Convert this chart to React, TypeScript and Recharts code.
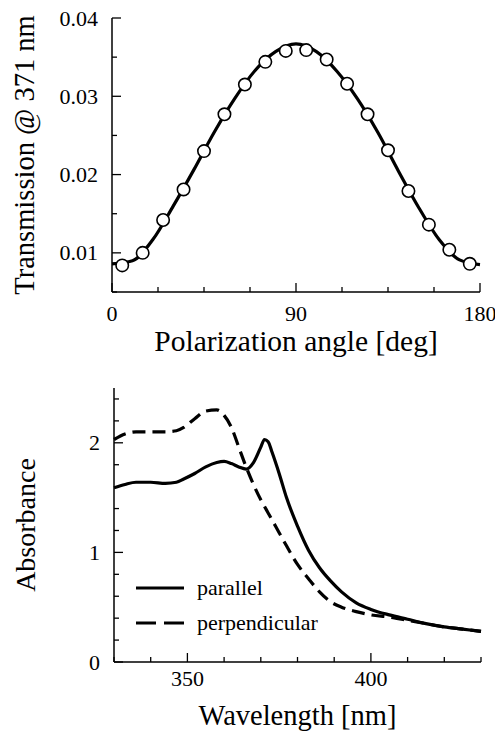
import React from 'react';
import { ComposedChart, LineChart, Line, Scatter, XAxis, YAxis, Legend, Label } from 'recharts';

const FONT = 'Liberation Serif';

// ---- Top panel: transmission vs polarization angle ----
const polAngles = [5, 15, 25, 35, 45, 55, 65, 75, 85, 95, 105, 115, 125, 135, 145, 155, 165, 175];
const polTrans = [0.0084, 0.0100, 0.0142, 0.0181, 0.0230, 0.0277, 0.0315, 0.0344, 0.0358, 0.0359, 0.0347, 0.0316, 0.0277, 0.0231, 0.0179, 0.0136, 0.0104, 0.0086];
const fitAngles = [0, 10, 20, 30, 40, 50, 60, 70, 80, 90, 100, 110, 120, 130, 140, 150, 160, 170, 180];
const fitTrans = [0.0086, 0.0090, 0.0117, 0.0160, 0.0206, 0.0254, 0.0297, 0.0333, 0.0357, 0.0367, 0.0357, 0.0332, 0.0297, 0.0254, 0.0205, 0.0158, 0.0117, 0.0091, 0.0085];
const polTicks = [0, 22.5, 45, 67.5, 90, 112.5, 135, 157.5, 180];
const polMajor = [0, 90, 180];
const transTicks = [0.005, 0.01, 0.015, 0.02, 0.025, 0.03, 0.035, 0.04];
const transMajor = [0.01, 0.02, 0.03, 0.04];

// ---- Bottom panel: absorbance spectra ----
const wavelengths = [330, 333, 336, 340, 344, 347, 349, 352, 355, 358, 360, 362, 364, 366, 368, 370, 371, 372, 373, 375, 377, 380, 383, 386, 389, 392, 396, 400, 405, 410, 415, 420, 425, 430];
const parallel = [1.59, 1.62, 1.64, 1.64, 1.63, 1.64, 1.67, 1.72, 1.78, 1.82, 1.83, 1.81, 1.78, 1.76, 1.82, 1.96, 2.03, 2.01, 1.92, 1.72, 1.50, 1.24, 1.02, 0.86, 0.74, 0.64, 0.54, 0.48, 0.43, 0.39, 0.35, 0.32, 0.30, 0.28];
const perpendicular = [2.03, 2.08, 2.10, 2.10, 2.10, 2.11, 2.14, 2.22, 2.29, 2.30, 2.25, 2.14, 1.96, 1.78, 1.62, 1.48, 1.42, 1.36, 1.30, 1.18, 1.06, 0.89, 0.76, 0.64, 0.55, 0.50, 0.46, 0.43, 0.41, 0.38, 0.35, 0.32, 0.30, 0.28];
const seriesNames = ['parallel', 'perpendicular'];
const wlTicks = [330, 340, 350, 360, 370, 380, 390, 400, 410, 420, 430];
const wlMajor = [350, 400];
const absTicks = [0, 0.2, 0.4, 0.6, 0.8, 1.0, 1.2, 1.4, 1.6, 1.8, 2.0, 2.2, 2.4];
const absMajor = [0, 1, 2];

const fitData = fitAngles.map((deg, i) => ({ deg, t: fitTrans[i] }));
const pointData = polAngles.map((deg, i) => ({ deg, t: polTrans[i] }));
const specData = wavelengths.map((wl, i) => ({ wl, par: parallel[i], perp: perpendicular[i] }));

const isMajor = (v: number, majors: number[]) => majors.some((m) => Math.abs(m - v) < 1e-9);
const TICK_FS = 22;
const MAJ = 9;
const MIN = 5;

const makeTick = (
  orient: 'bottom' | 'left' | 'top' | 'right',
  majors: number[],
  fmt: (v: number) => string,
  labelOff: number
) => (props: any) => {
  const { x, y, payload } = props;
  const v = payload.value;
  const major = isMajor(v, majors);
  const len = major ? MAJ : MIN;
  let line;
  let label = null;
  if (orient === 'bottom') {
    line = <line x1={x} x2={x} y1={y} y2={y - len} stroke="#000" strokeWidth={1.3} />;
    if (major)
      label = (
        <text x={x} y={y + labelOff} textAnchor="middle" fontSize={TICK_FS} fontFamily={FONT} fill="#000">
          {fmt(v)}
        </text>
      );
  } else if (orient === 'top') {
    line = <line x1={x} x2={x} y1={y} y2={y + len} stroke="#000" strokeWidth={1.3} />;
  } else if (orient === 'left') {
    line = <line x1={x} x2={x + len} y1={y} y2={y} stroke="#000" strokeWidth={1.3} />;
    if (major)
      label = (
        <text x={x - labelOff} y={y + 7.5} textAnchor="end" fontSize={TICK_FS} fontFamily={FONT} fill="#000">
          {fmt(v)}
        </text>
      );
  } else {
    line = <line x1={x} x2={x - len} y1={y} y2={y} stroke="#000" strokeWidth={1.3} />;
  }
  return (
    <g>
      {line}
      {label}
    </g>
  );
};

const XTitle = (text: string, off: number, fs: number) => (props: any) => {
  const vb = props.viewBox;
  return (
    <text x={vb.x + vb.width / 2} y={vb.y + off} textAnchor="middle" fontSize={fs} fontFamily={FONT} fill="#000">
      {text}
    </text>
  );
};

const YTitle = (text: string, bx: number, fs: number) => (props: any) => {
  const vb = props.viewBox;
  const cy = vb.y + vb.height / 2;
  return (
    <text
      x={0}
      y={0}
      transform={`translate(${bx}, ${cy}) rotate(-90)`}
      textAnchor="middle"
      fontSize={fs}
      fontFamily={FONT}
      fill="#000"
    >
      {text}
    </text>
  );
};

const Circle = (props: any) => (
  <circle cx={props.cx} cy={props.cy} r={6.2} fill="#fff" stroke="#000" strokeWidth={1.6} />
);

const legendDash = ['', '20 8'];

const SpecLegend = (props: any) => {
  const payload = props.payload || [];
  return (
    <div style={{ fontFamily: FONT, fontSize: 22, color: '#000' }}>
      {payload.map((entry: any, i: number) => (
        <div key={i} style={{ display: 'flex', alignItems: 'center', height: 35.5 }}>
          <svg width={48} height={10} style={{ marginRight: 13 }}>
            <line x1={0} x2={48} y1={5} y2={5} stroke="#000" strokeWidth={3.2} strokeDasharray={legendDash[i]} />
          </svg>
          <span style={{ lineHeight: '22px' }}>{entry.value}</span>
        </div>
      ))}
    </div>
  );
};

const axisLine = { stroke: '#000', strokeWidth: 1.5 };

export default function App() {
  return (
    <div style={{ position: 'absolute', left: 0, top: 0, width: 495, height: 734, background: '#fff', fontFamily: FONT }}>
      <div style={{ position: 'absolute', left: 0, top: 0 }}>
        <ComposedChart width={495} height={360} margin={{ top: 18, right: 15, bottom: 0, left: 0 }}>
          <XAxis
            dataKey="deg"
            type="number"
            domain={[0, 180]}
            ticks={polTicks}
            interval={0}
            height={68}
            axisLine={axisLine}
            tickLine={false}
            tickSize={0}
            tickMargin={0}
            tick={makeTick('bottom', polMajor, (v) => String(v), 29)}
          >
            <Label content={XTitle('Polarization angle [deg]', 59, 29.5)} />
          </XAxis>
          <XAxis
            xAxisId="top"
            orientation="top"
            dataKey="deg"
            type="number"
            domain={[0, 180]}
            ticks={polTicks}
            interval={0}
            height={0}
            axisLine={axisLine}
            tickLine={false}
            tickSize={0}
            tickMargin={0}
            tick={makeTick('top', polMajor, (v) => String(v), 0)}
          />
          <YAxis
            type="number"
            domain={[0.005, 0.04]}
            ticks={transTicks}
            interval={0}
            width={112}
            axisLine={axisLine}
            tickLine={false}
            tickSize={0}
            tickMargin={0}
            tick={makeTick('left', transMajor, (v) => v.toFixed(2), 14)}
          >
            <Label content={YTitle('Transmission @ 371 nm', 34, 28.5)} />
          </YAxis>
          <YAxis
            yAxisId="right"
            orientation="right"
            type="number"
            domain={[0.005, 0.04]}
            ticks={transTicks}
            interval={0}
            width={0}
            axisLine={axisLine}
            tickLine={false}
            tickSize={0}
            tickMargin={0}
            tick={makeTick('right', transMajor, (v) => String(v), 0)}
          />
          <Line
            data={fitData}
            dataKey="t"
            type="monotone"
            stroke="#000"
            strokeWidth={3.2}
            dot={false}
            isAnimationActive={false}
          />
          <Scatter data={pointData} dataKey="t" shape={Circle} isAnimationActive={false} />
        </ComposedChart>
      </div>
      <div style={{ position: 'absolute', left: 0, top: 370 }}>
        <LineChart width={495} height={364} data={specData} margin={{ top: 18, right: 14, bottom: 0, left: 0 }}>
          <XAxis
            dataKey="wl"
            type="number"
            domain={[330, 430]}
            ticks={wlTicks}
            interval={0}
            height={72}
            axisLine={axisLine}
            tickLine={false}
            tickSize={0}
            tickMargin={0}
            tick={makeTick('bottom', wlMajor, (v) => String(v), 24)}
          >
            <Label content={XTitle('Wavelength [nm]', 63, 28.5)} />
          </XAxis>
          <XAxis
            xAxisId="top"
            orientation="top"
            dataKey="wl"
            type="number"
            domain={[330, 430]}
            ticks={wlTicks}
            interval={0}
            height={0}
            axisLine={axisLine}
            tickLine={false}
            tickSize={0}
            tickMargin={0}
            tick={makeTick('top', wlMajor, (v) => String(v), 0)}
          />
          <YAxis
            type="number"
            domain={[0, 2.5]}
            ticks={absTicks}
            interval={0}
            width={114}
            axisLine={axisLine}
            tickLine={false}
            tickSize={0}
            tickMargin={0}
            tick={makeTick('left', absMajor, (v) => String(Math.round(v)), 14)}
          >
            <Label content={YTitle('Absorbance', 35, 28)} />
          </YAxis>
          <YAxis
            yAxisId="right"
            orientation="right"
            type="number"
            domain={[0, 2.5]}
            ticks={absTicks}
            interval={0}
            width={0}
            axisLine={axisLine}
            tickLine={false}
            tickSize={0}
            tickMargin={0}
            tick={makeTick('right', absMajor, (v) => String(v), 0)}
          />
          <Line
            dataKey="par"
            name={seriesNames[0]}
            type="monotone"
            stroke="#000"
            strokeWidth={3.2}
            dot={false}
            isAnimationActive={false}
          />
          <Line
            dataKey="perp"
            name={seriesNames[1]}
            type="monotone"
            stroke="#000"
            strokeWidth={3.2}
            strokeDasharray="13 7"
            dot={false}
            isAnimationActive={false}
          />
          <Legend
            layout="vertical"
            align="center"
            verticalAlign="middle"
            content={SpecLegend}
            wrapperStyle={{ left: 136, top: 200, width: 200, height: 72 }}
          />
        </LineChart>
      </div>
    </div>
  );
}
